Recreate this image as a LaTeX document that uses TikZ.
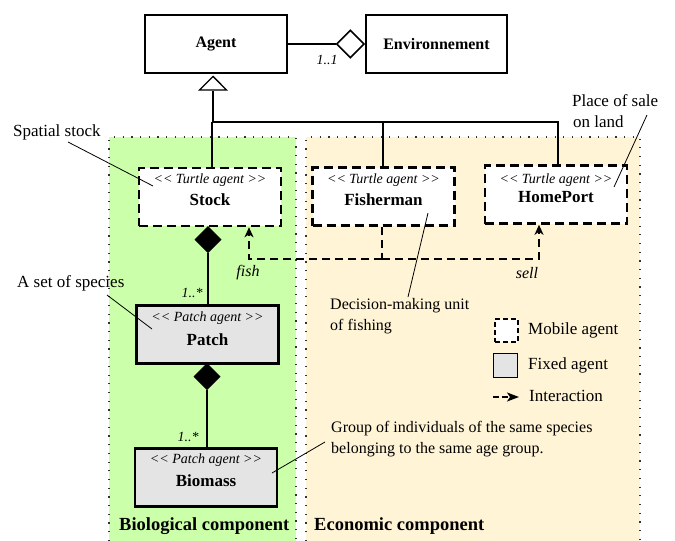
\documentclass[tikz,border=0pt]{standalone}
\usepackage{fontspec}
\setmainfont{Liberation Serif}
\usetikzlibrary{arrows.meta,shapes.geometric}
\definecolor{biogreen}{RGB}{204,255,170}
\definecolor{ecobeige}{RGB}{255,244,214}
\definecolor{fixgray}{RGB}{228,228,228}
\newcommand{\stll}{<\kern0pt<}
\newcommand{\stgg}{>\kern0pt>}
\tikzset{
  region/.style={draw=black!80,line width=1.2pt,dash pattern=on 1.2pt off 7.5pt},
  mobile/.style={draw,fill=white,line width=2.6pt,dash pattern=on 9pt off 5pt,minimum width=142pt,minimum height=58pt,inner sep=0pt},
  fixed/.style={draw,fill=fixgray,line width=2.6pt,minimum width=142pt,minimum height=58pt,inner sep=0pt},
  stereo/.style={font=\fontsize{14}{16}\selectfont\itshape,inner sep=0pt},
  agname/.style={font=\fontsize{17}{20}\selectfont\bfseries,inner sep=0pt},
  note/.style={font=\fontsize{17}{21}\selectfont,align=left,inner sep=0pt},
  smallnote/.style={font=\fontsize{16}{21}\selectfont,align=left,inner sep=0pt},
  comp/.style={font=\fontsize{18.5}{22}\selectfont\bfseries,inner sep=0pt,anchor=west},
  mult/.style={font=\fontsize{14}{16}\selectfont\itshape,inner sep=0pt},
  conn/.style={line width=1.4pt},
  thinl/.style={line width=0.8pt},
  inter/.style={line width=1.6pt,dash pattern=on 8pt off 5pt},
}
\begin{document}
\begin{tikzpicture}[x=1pt,y=-1pt]
\useasboundingbox (0,0) rectangle (675,541);
% regions
\fill[biogreen] (109,137) rectangle (296,541);
\fill[ecobeige] (306,137) rectangle (640,541);
\draw[region] (109,541) -- (109,137) -- (296,137) -- (296,541);
\draw[region] (306,541) -- (306,137) -- (640,137) -- (640,541);
\node[comp] (bio) at (119,526) {Biological component};
\node[comp] (eco) at (314,526) {Economic component};
% top classes
\node[draw,line width=2.6pt,minimum width=142pt,minimum height=58pt,inner sep=0pt,font=\fontsize{16}{19}\selectfont\bfseries] (agent) at (216,44) {Agent};
\node[draw,line width=1.6pt,minimum width=141pt,minimum height=58pt,inner sep=0pt,font=\fontsize{16}{19}\selectfont\bfseries] (env) at (436.5,44) {Environnement};
\node[diamond,draw,fill=white,line width=1.6pt,minimum width=28pt,minimum height=28pt,inner sep=0pt,anchor=east] (envd) at (env.west) {};
\draw[conn] (agent.east) -- (envd.west);
\node[mult] (m11) at (327,60) {1..1};
% agents
\node[mobile] (stock) at (210,197) {};
\node[stereo] (stock-s) at ([yshift=17pt]stock.center) {\stll{} Turtle agent \stgg};
\node[agname] (stock-n) at ([yshift=-3pt]stock.center) {Stock};
\node[mobile] (fisher) at (383.5,196.5) {};
\node[stereo] (fisher-s) at ([yshift=16.5pt]fisher.center) {\stll{} Turtle agent \stgg};
\node[agname] (fisher-n) at ([yshift=-3pt]fisher.center) {Fisherman};
\node[mobile] (home) at (556,194.5) {};
\node[stereo] (home-s) at ([yshift=14.5pt]home.center) {\stll{} Turtle agent \stgg};
\node[agname] (home-n) at ([yshift=-2.5pt]home.center) {HomePort};
\node[fixed] (patch) at (207.5,334.5) {};
\node[stereo] (patch-s) at ([yshift=16.5pt]patch.center) {\stll{} Patch agent \stgg};
\node[agname] (patch-n) at ([yshift=-5pt]patch.center) {Patch};
\node[fixed] (biomass) at (206,477.5) {};
\node[stereo] (biomass-s) at ([yshift=17.5pt]biomass.center) {\stll{} Patch agent \stgg};
\node[agname] (biomass-n) at ([yshift=-3pt]biomass.center) {Biomass};
% inheritance
\node[isosceles triangle,isosceles triangle apex angle=90,shape border rotate=90,draw,fill=white,line width=1.4pt,minimum width=27pt,inner sep=0pt,anchor=apex] (tri) at (213,75.5) {};
\coordinate (jl) at (212,122);
\coordinate (jm) at (383,122);
\coordinate (jr) at (558,122);
\draw[conn] (tri.south) -- (213,122) -- (jr) -- (home.north -| jr);
\draw[conn] (jl) -- (stock.north -| jl);
\draw[conn] (jm) -- (fisher.north -| jm);
% compositions
\node[diamond,draw,fill=black,line width=1pt,minimum width=26pt,minimum height=26pt,inner sep=0pt,anchor=north] (d1) at (208,226) {};
\draw[conn] (d1.south) -- (patch.north -| d1.south);
\node[mult] (m1) at (192,293) {1..*};
\node[diamond,draw,fill=black,line width=1pt,minimum width=26pt,minimum height=26pt,inner sep=0pt,anchor=north] (d2) at (207,363) {};
\draw[conn] (d2.south) -- (biomass.north -| d2.south);
\node[mult] (m2) at (188,437) {1..*};
% interactions
\coordinate (fb) at (382,259);
\coordinate (sb) at (249,259);
\coordinate (hb) at (539,259);
\draw[inter] (fisher.south -| fb) -- (fb);
\draw[inter,-{Stealth[inset=3pt,length=10pt,width=9pt]}] (fb) -- (sb) -- (stock.south -| sb);
\draw[inter,-{Stealth[inset=3pt,length=10pt,width=9pt]}] (fb) -- (hb) -- (home.south -| hb);
\node[mult,font=\fontsize{16}{19}\selectfont\itshape] (fish) at (248,273) {fish};
\node[mult,font=\fontsize{16}{19}\selectfont\itshape] (sell) at (527,273) {sell};
% annotations
\node[note,anchor=west] (n1) at (13,132) {Spatial stock};
\draw[thinl] (68,142) -- (153,186);
\node[note,anchor=west] (n2) at (17,283) {A set of species};
\draw[thinl] (107,295) -- (152,329);
\node[note,anchor=west] (n3) at (572,101) {Place of sale};
\node[note,anchor=west] (n3b) at (573,122) {on land};
\draw[thinl] (647,115) -- (614,187);
\node[smallnote,anchor=north west] (n4) at (330,298) {Decision-making unit\\of fishing};
\draw[thinl] (428,213) -- (408,297);
\node[smallnote,anchor=north west] (n5) at (331,421) {Group of individuals of the same species\\belonging to the same age group.};
\draw[thinl] (325,442) -- (272,473);
% legend
\node[draw,fill=white,line width=1.6pt,dash pattern=on 5pt off 3pt,minimum width=23pt,minimum height=23pt,inner sep=0pt] (lm) at (506.5,330.5) {};
\node[note,anchor=west] (lmt) at (528,330) {Mobile agent};
\node[draw,fill=fixgray,line width=1.8pt,minimum width=24pt,minimum height=24pt,inner sep=0pt] (lf) at (505.5,365.5) {};
\node[note,anchor=west] (lft) at (528,365) {Fixed agent};
\coordinate (la1) at (493,397);
\coordinate (la2) at (519,397);
\draw[line width=1.6pt,dash pattern=on 6pt off 3pt,-{Stealth[inset=3pt,length=12pt,width=9pt]}] (la1) -- (la2);
\node[note,anchor=west] (lat) at (529,396) {Interaction};
\end{tikzpicture}
\end{document}
